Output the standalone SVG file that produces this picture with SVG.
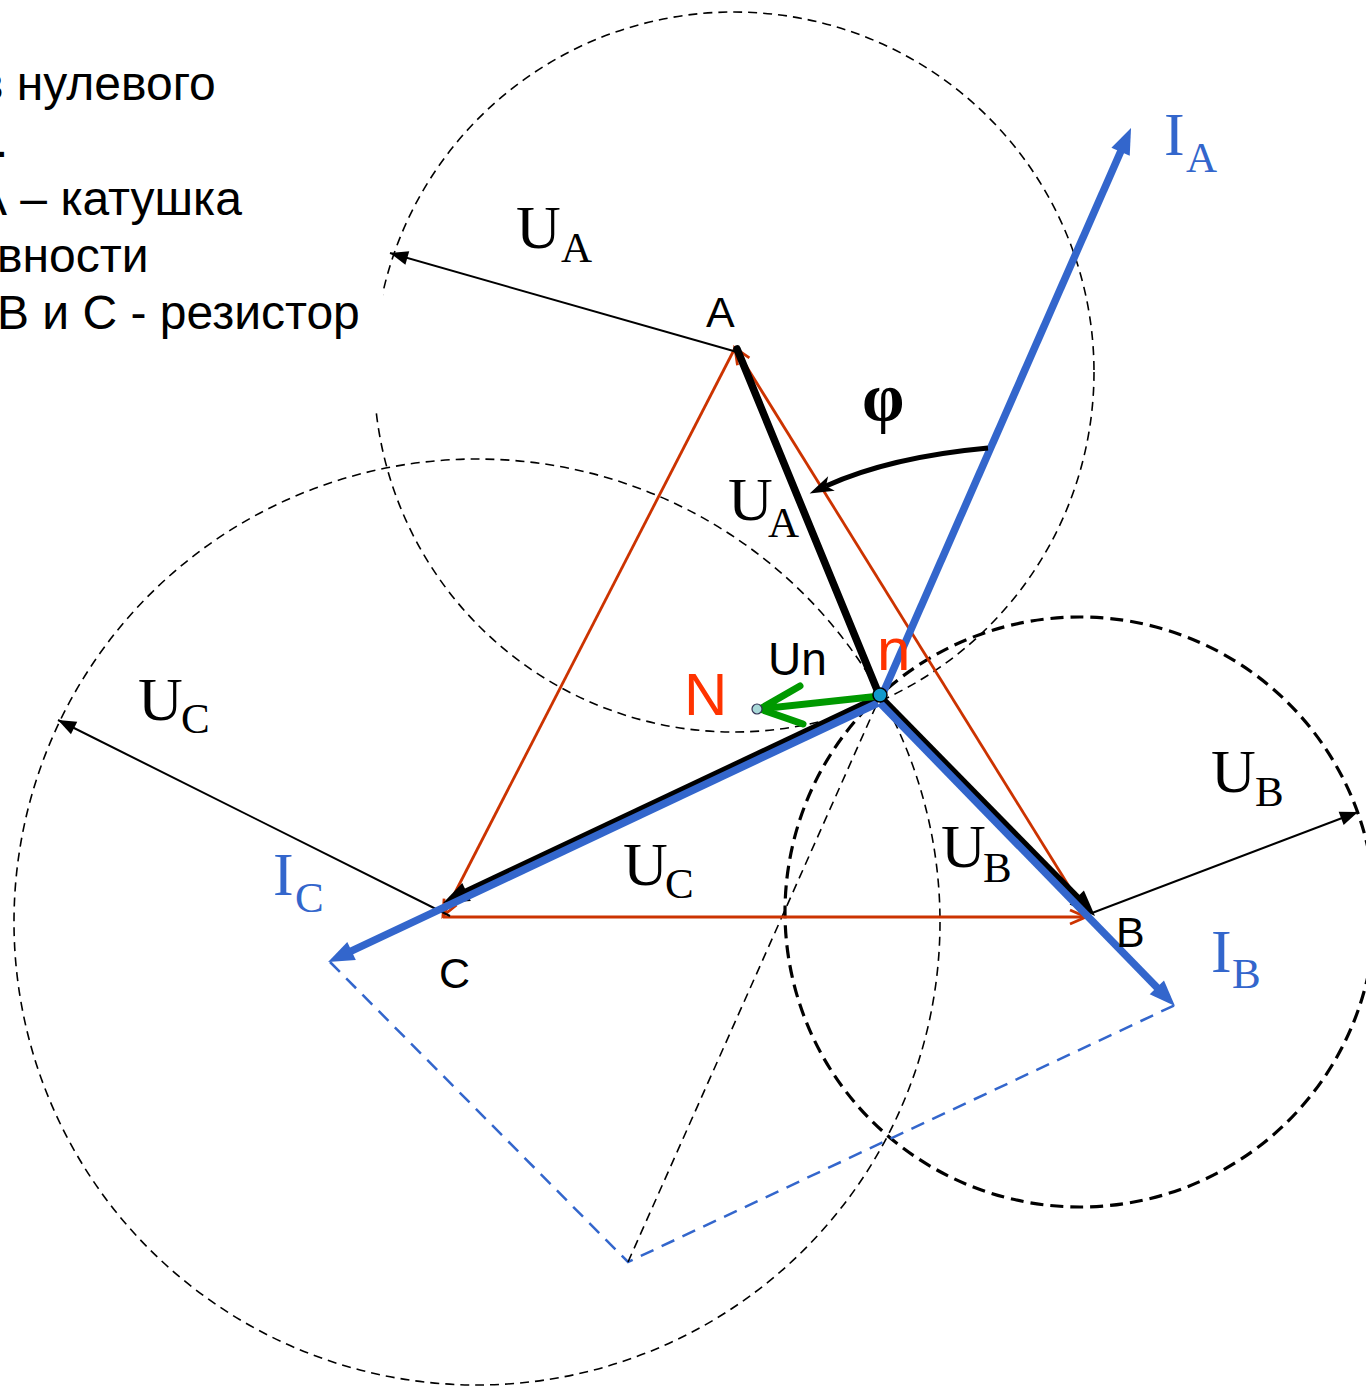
<svg xmlns="http://www.w3.org/2000/svg" width="1366" height="1387" viewBox="0 0 1366 1387">
<style>
.thin{fill:none;stroke:#000;stroke-width:1.6;stroke-dasharray:9 6}
.bold{fill:none;stroke:#000;stroke-width:3.2;stroke-dasharray:13 7}
.bdash{fill:none;stroke:#3366CC;stroke-width:2.5;stroke-dasharray:14 9}
.red{fill:none;stroke:#CC3300;stroke-width:2.8}
.blk{fill:none;stroke:#000;stroke-width:7.5}
.blu{fill:none;stroke:#3366CC;stroke-width:7.5}
.rad{fill:none;stroke:#000;stroke-width:2}
.sans{font-family:"Liberation Sans",Arial,sans-serif}
.serif{font-family:"Liberation Serif","Times New Roman",serif}
.txt{font-size:48px;fill:#000}
.big{font-size:62px}
.sub{font-size:43px}
</style>
<defs>
<marker id="ab" markerUnits="userSpaceOnUse" markerWidth="40" markerHeight="40" refX="14" refY="10" orient="auto" overflow="visible"><path d="M0,0 L26,10 L0,20 z" fill="#000"/></marker>
<marker id="au" markerUnits="userSpaceOnUse" markerWidth="40" markerHeight="40" refX="14" refY="10" orient="auto" overflow="visible"><path d="M0,0 L26,10 L0,20 z" fill="#3366CC"/></marker>
<marker id="at" markerUnits="userSpaceOnUse" markerWidth="30" markerHeight="30" refX="18" refY="7" orient="auto" overflow="visible"><path d="M0,0 L18,7 L0,14 z" fill="#000"/></marker>
<marker id="ar" markerUnits="userSpaceOnUse" markerWidth="30" markerHeight="30" refX="0" refY="0" orient="auto" overflow="visible"><path d="M-16,-7 L0,0 L-16,7" fill="none" stroke="#CC3300" stroke-width="2.8"/></marker>
<marker id="af" markerUnits="userSpaceOnUse" markerWidth="30" markerHeight="30" refX="6" refY="8" orient="auto" overflow="visible"><path d="M0,0 L24,8 L0,16 L6,8 z" fill="#000"/></marker>
</defs>

<g id="circles">
<circle id="circleA" class="thin" cx="734" cy="372" r="360"/>
<circle id="circleC" class="thin" cx="477" cy="922" r="463"/>
<circle id="circleB" class="bold" cx="1080" cy="912" r="295"/>
</g>

<g id="legend">
<rect x="0" y="292" width="383" height="118" fill="#fff"/>
<text class="sans txt" x="-22" y="100">в нулевого</text>
<text class="sans txt" x="-5" y="157">.</text>
<text class="sans txt" x="-25" y="215">А – катушка</text>
<text class="sans txt" x="-3" y="272">вности</text>
<text class="sans txt" x="-3" y="329">В и С - резистор</text>
</g>

<g id="connectors">
<path class="bdash" d="M330,962 L628,1262 L1175,1005"/>
<path class="thin" d="M628,1262 L880,697"/>
<path class="red" d="M1088,917 L735,348" marker-end="url(#ar)"/>
<path class="red" d="M735,348 L443,916" marker-end="url(#ar)"/>
<path class="red" d="M443,917 L1086,917" marker-end="url(#ar)"/>
<path class="rad" d="M737,352 L390,253" marker-end="url(#at)"/>
<path class="rad" d="M450,916 L58,720" marker-end="url(#at)"/>
<path class="rad" d="M1092,913 L1358,812" marker-end="url(#at)"/>
<path class="blk" d="M880,697 L737,349" stroke-linecap="round"/>
<path class="blk" d="M880,697 L453.9,897.9" marker-end="url(#ab)"/>
<path class="blk" d="M880,697 L1086.6,907.4" marker-end="url(#ab)"/>
<path class="blu" d="M880,700 L1126.2,139" marker-end="url(#au)"/>
<path class="blu" d="M878,703 L338.9,956.9" marker-end="url(#au)"/>
<path class="blu" d="M880,703 L1166.6,997.4" marker-end="url(#au)"/>
<path d="M988,448 Q890,457 826,486" fill="none" stroke="#000" stroke-width="5" marker-end="url(#af)"/>
<path d="M880,696 L760,709 M800,686 L760,709 L803,724" fill="none" stroke="#009900" stroke-width="7" stroke-linecap="round" stroke-linejoin="round"/>
</g>

<g id="nodeN"><circle cx="757" cy="709" r="5" fill="#a8d8d8" stroke="#335" stroke-width="1.2"/>
<text class="sans" x="684" y="715" font-size="60" fill="#FF3300">N</text></g>
<g id="noden"><circle cx="880" cy="695" r="7" fill="#1199cc" stroke="#000" stroke-width="1.5"/>
<text class="sans" x="877" y="670" font-size="60" fill="#FF3300">n</text></g>
<g id="nodeA"><text class="sans" x="706" y="327" font-size="43">A</text></g>
<g id="nodeB"><text class="sans" x="1116" y="947" font-size="43">B</text></g>
<g id="nodeC"><text class="sans" x="439" y="988" font-size="43">C</text></g>

<g id="labels" class="serif">
<text x="516" y="248" class="big">U</text><text x="561" y="262" class="sub">A</text>
<text x="728" y="520" class="big">U</text><text x="768" y="537" class="sub">A</text>
<text x="138" y="720" class="big">U</text><text x="181" y="733" class="sub">C</text>
<text x="623" y="885" class="big">U</text><text x="665" y="898" class="sub">C</text>
<text x="941" y="867" class="big">U</text><text x="983" y="882" class="sub">B</text>
<text x="1211" y="792" class="big">U</text><text x="1255" y="806" class="sub">B</text>
<text x="862" y="420" font-size="68" font-weight="bold">φ</text>
<text x="1164" y="155" class="big" fill="#3366CC">I</text><text x="1186" y="172" class="sub" fill="#3366CC">A</text>
<text x="273" y="895" class="big" fill="#3366CC">I</text><text x="295" y="912" class="sub" fill="#3366CC">C</text>
<text x="1211" y="972" class="big" fill="#3366CC">I</text><text x="1232" y="988" class="sub" fill="#3366CC">B</text>
<text class="sans" x="768" y="675" font-size="46">Un</text>
</g>
</svg>
